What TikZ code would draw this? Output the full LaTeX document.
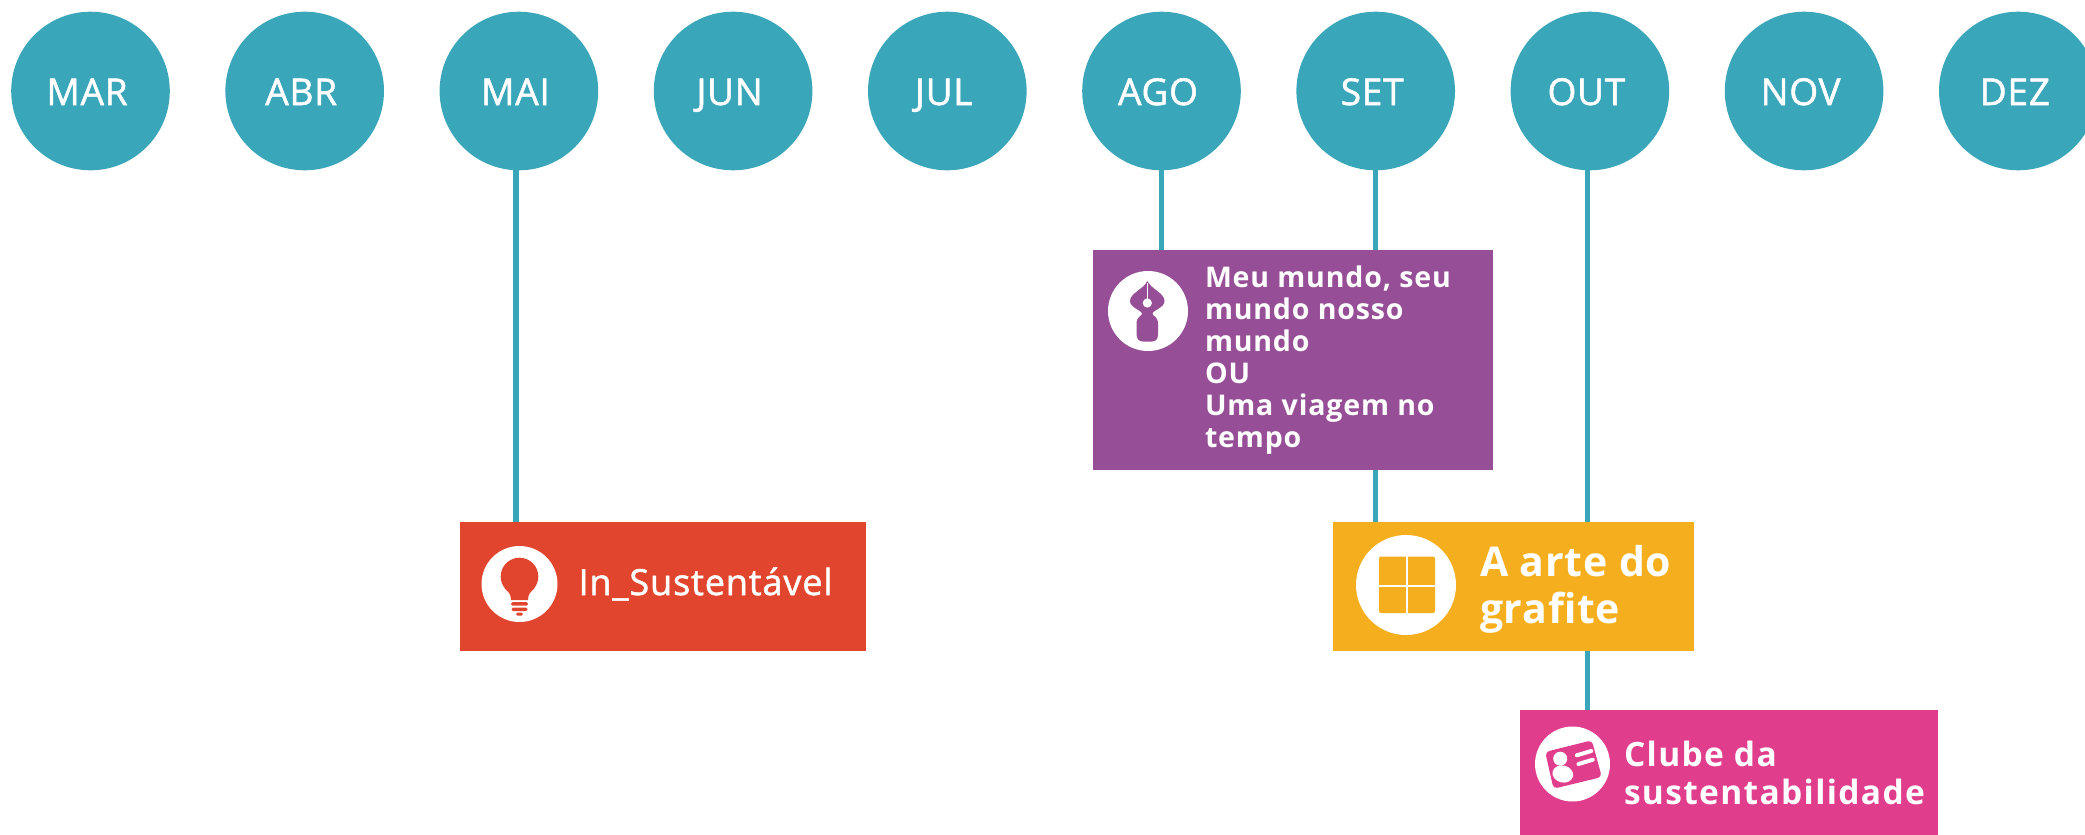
\documentclass[tikz,border=0pt]{standalone}
\usepackage{fontspec}
\setmainfont{Open Sans}
\newfontfamily\mediumfont[FakeBold=1.4]{Open Sans}
\usetikzlibrary{positioning}
\definecolor{teal}{HTML}{3AA6B9}
\definecolor{redbox}{HTML}{E2452D}
\definecolor{purplebox}{HTML}{964F96}
\definecolor{yellowbox}{HTML}{F5AF1E}
\definecolor{pinkbox}{HTML}{E03E8C}

\begin{document}
\begin{tikzpicture}[x=1pt,y=-1pt]
\tikzset{month/.style={circle,minimum size=158.6pt,inner sep=0pt,outer sep=0pt,fill=teal,text=white,text height=28pt,text depth=0pt,font=\mediumfont\fontsize{37}{37}\selectfont\addfontfeature{LetterSpace=2},execute at begin node={\kern-7pt}}}
\tikzset{activity/.style={rectangle,inner sep=0pt,outer sep=0pt,anchor=north west}}
\tikzset{icon/.style={circle,inner sep=0pt,outer sep=0pt,fill=white}}
\tikzset{caption/.style={inner sep=0pt,outer sep=0pt,text=white,align=left}}
\tikzset{link/.style={draw=teal,line width=5.2pt}}
\useasboundingbox (0,0) rectangle (2085,835);
% months
\node[month] (mar) at (90.5,91) {MAR};
\node[month, right = 55.6pt of mar] (abr) {ABR};
\node[month, right = 55.6pt of abr] (mai) {MAI};
\node[month, right = 55.6pt of mai] (jun) {JUN};
\node[month, right = 55.6pt of jun] (jul) {JUL};
\node[month, right = 55.6pt of jul] (ago) {AGO};
\node[month, right = 55.6pt of ago] (set) {SET};
\node[month, right = 55.6pt of set] (out) {OUT};
\node[month, right = 55.6pt of out] (nov) {NOV};
\node[month, right = 55.6pt of nov] (dez) {DEZ};
% boxes
\node[activity, fill=redbox, minimum width=406pt, minimum height=129pt] (sustentavel) at (460,522) {};
\node[activity, fill=purplebox, minimum width=400pt, minimum height=220pt] (mundo) at (1093,250) {};
\node[activity, fill=yellowbox, minimum width=361pt, minimum height=129pt] (grafite) at (1333,522) {};
\node[activity, fill=pinkbox, minimum width=418pt, minimum height=125pt] (clube) at (1520,710) {};
% links
\draw[link] ([xshift=-3pt]mai.south) -- ([xshift=-3pt]mai.south |- sustentavel.north);
\draw[link] (ago.south) -- (ago.south |- mundo.north);
\draw[link] (set.south) -- (set.south |- mundo.north);
\draw[link] (set.south |- mundo.south) -- (set.south |- grafite.north);
\draw[link] ([xshift=-2.4pt]out.south) -- ([xshift=-2.4pt]out.south |- grafite.north);
\draw[link] ([xshift=-2.4pt]out.south |- grafite.south) -- ([xshift=-2.4pt]out.south |- clube.north);
% icons
\node[icon, minimum size=76pt] (bulb) at (519.5,584) {};
\node[icon, minimum size=80pt] (pen) at (1148,311) {};
\node[icon, minimum size=100pt] (grid) at (1406,585) {};
\node[icon, minimum size=75pt] (card) at (1572.5,764) {};
\begin{scope}[shift={(bulb)}]
\fill[redbox] (0,-7.5) circle (18.8);
\fill[redbox] (-15,4) .. controls (-11,8) and (-8.5,10) .. (-8.5,16) -- (8.5,16) .. controls (8.5,10) and (11,8) .. (15,4) -- cycle;
\fill[redbox,rounded corners=1.5pt] (-8.5,18) rectangle (8.5,21.5);
\fill[redbox,rounded corners=1.5pt] (-8,23.5) rectangle (8,27);
\fill[redbox,rounded corners=1.5pt] (-3.5,28.5) rectangle (3.5,31.5);
\end{scope}
\begin{scope}[shift={(pen)}]
\fill[purplebox] (-.7,-30) .. controls (-4,-22) and (-18,-18) .. (-18,-10) .. controls (-18,-3) and (-6,-1) .. (-6,3) .. controls (-6,5) and (-11.5,5) .. (-11.5,13) -- (-11.5,23) .. controls (-11.5,28) and (-9,30.5) .. (-5,30.5) -- (4,30.5) .. controls (8,30.5) and (10,28) .. (10,23) -- (10,13) .. controls (10,5) and (4.5,5) .. (4.5,3) .. controls (4.5,-1) and (16.5,-3) .. (16.5,-10) .. controls (16.5,-18) and (3,-22) .. (-.7,-30) -- cycle;
\draw[white,line width=.9pt] (-.7,-28) -- (-.7,-8);
\fill[white] (-.7,-8) circle (4.6);
\end{scope}
\begin{scope}[shift={(grid)}]
\fill[yellowbox,rounded corners=2pt] (-27,-28.5) rectangle (29,28);
\draw[white,line width=2.2pt] (1,-29) -- (1,29);
\draw[white,line width=1.8pt] (-28,1) -- (30,1);
\end{scope}
\begin{scope}[shift={(card)}]
\fill[pinkbox,rounded corners=4pt] (-27.3,-12) -- (19.3,-23.7) -- (29.3,13) -- (-19,24.7) -- cycle;
\fill[white] (-12.3,-5.3) circle (7);
\fill[white,rotate around={-14:(-9.7,10)}] (-9.7,10) ellipse (10.5 and 8.5);
\draw[white,line width=4pt,line cap=round] (4.3,-8.7) -- (18.7,-13);
\draw[white,line width=4pt,line cap=round] (6,0) -- (20.3,-4.3);
\end{scope}
% captions
\node[caption, right = 21pt of bulb, font=\mediumfont\fontsize{36}{36}\selectfont\addfontfeature{LetterSpace=2.5}, yshift=0pt] (sustentaveltext) {In\_Sustentável};
\node[caption, right = 17pt of pen, yshift=-49pt, font=\fontsize{28.5}{32}\bfseries\selectfont\addfontfeature{LetterSpace=3}] (mundotext) {Meu mundo, seu\\mundo nosso\\mundo\\OU\\Uma viagem no\\tempo};
\node[caption, right = 24pt of grid, yshift=-4.5pt, font=\fontsize{41}{47.5}\bfseries\selectfont\addfontfeature{LetterSpace=2}] (grafitetext) {A arte do\\grafite};
\node[caption, right = 14pt of card, yshift=-9pt, font=\fontsize{33.5}{37.5}\bfseries\selectfont\addfontfeature{LetterSpace=4}] (clubetext) {Clube da\\sustentabilidade};
\end{tikzpicture}
\end{document}
